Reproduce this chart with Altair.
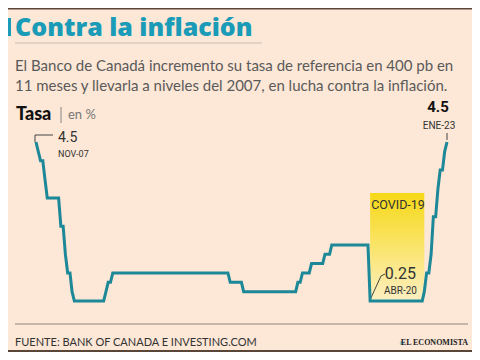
import altair as alt
import pandas as pd

# ---------------- data ----------------
start_month = "2007-11-01"
end_month = "2023-01-01"
rates_2007 = [4.50, 4.25]  # Nov, Dec
rates_2008 = [4.00, 4.00, 3.50, 3.00, 3.00, 3.00, 3.00, 3.00, 3.00, 2.25, 2.25, 1.50]
rates_2009 = [1.00, 1.00, 0.50, 0.25, 0.25, 0.25, 0.25, 0.25, 0.25, 0.25, 0.25, 0.25]
rates_2010 = [0.25, 0.25, 0.25, 0.25, 0.25, 0.50, 0.75, 0.75, 1.00, 1.00, 1.00, 1.00]
rates_2011 = [1.00, 1.00, 1.00, 1.00, 1.00, 1.00, 1.00, 1.00, 1.00, 1.00, 1.00, 1.00]
rates_2012 = [1.00, 1.00, 1.00, 1.00, 1.00, 1.00, 1.00, 1.00, 1.00, 1.00, 1.00, 1.00]
rates_2013 = [1.00, 1.00, 1.00, 1.00, 1.00, 1.00, 1.00, 1.00, 1.00, 1.00, 1.00, 1.00]
rates_2014 = [1.00, 1.00, 1.00, 1.00, 1.00, 1.00, 1.00, 1.00, 1.00, 1.00, 1.00, 1.00]
rates_2015 = [0.75, 0.75, 0.75, 0.75, 0.75, 0.75, 0.50, 0.50, 0.50, 0.50, 0.50, 0.50]
rates_2016 = [0.50, 0.50, 0.50, 0.50, 0.50, 0.50, 0.50, 0.50, 0.50, 0.50, 0.50, 0.50]
rates_2017 = [0.50, 0.50, 0.50, 0.50, 0.50, 0.50, 0.75, 0.75, 1.00, 1.00, 1.00, 1.00]
rates_2018 = [1.25, 1.25, 1.25, 1.25, 1.25, 1.25, 1.50, 1.50, 1.50, 1.75, 1.75, 1.75]
rates_2019 = [1.75, 1.75, 1.75, 1.75, 1.75, 1.75, 1.75, 1.75, 1.75, 1.75, 1.75, 1.75]
rates_2020 = [1.75, 1.75, 0.25, 0.25, 0.25, 0.25, 0.25, 0.25, 0.25, 0.25, 0.25, 0.25]
rates_2021 = [0.25, 0.25, 0.25, 0.25, 0.25, 0.25, 0.25, 0.25, 0.25, 0.25, 0.25, 0.25]
rates_2022 = [0.25, 0.25, 0.50, 1.00, 1.00, 1.50, 2.50, 2.50, 3.25, 3.75, 3.75, 4.25]
rates_2023 = [4.50]  # Jan

covid_start = ["2020-03-01"]
covid_end = ["2022-03-01"]

ann_dates = ["2007-11-01", "2020-04-01", "2023-01-01"]
ann_values = [4.5, 0.25, 4.5]
ann_labels = ["4.5", "0.25", "4.5"]
ann_sub = ["NOV-07", "ABR-20", "ENE-23"]

title_text = "Contra la inflación"
subtitle_lines = [
    "El Banco de Canadá incremento su tasa de referencia en 400 pb en",
    "11 meses y llevarla a niveles del 2007, en lucha contra la inflación.",
]
source_text = "FUENTE: BANK OF CANADA E INVESTING.COM"
brand_text = "EL ECONOMISTA"

# ---------------- build tables ----------------
rates = (rates_2007 + rates_2008 + rates_2009 + rates_2010 + rates_2011 + rates_2012
         + rates_2013 + rates_2014 + rates_2015 + rates_2016 + rates_2017 + rates_2018
         + rates_2019 + rates_2020 + rates_2021 + rates_2022 + rates_2023)
months = pd.date_range(start_month, end_month, freq="MS").strftime("%Y-%m-%d").tolist()
df = pd.DataFrame({"fecha": months, "tasa": rates})
covid = pd.DataFrame({"fecha": covid_start, "fin": covid_end})
ann = pd.DataFrame({"fecha": ann_dates, "tasa": ann_values,
                    "lab": ann_labels, "sub": ann_sub})

W, H = 464, 344
BG = "#fde7d6"
TEAL = "#1a9bb7"
LINE = "#1d8898"
NARROW = "Roboto, Liberation Sans, sans-serif"
SANS = "Lato, Open Sans, sans-serif"

xs = alt.Scale(range=[28, 439], nice=False)
ys = alt.Scale(domain=[0.25, 4.5], range=[293, 134], zero=False, nice=False)
X = alt.X("fecha:T", scale=xs, axis=None)
Y = alt.Y("tasa:Q", scale=ys, axis=None)

one = pd.DataFrame({"k": [0]})

def txt(text, x, y, size, color="#333333", weight="normal", font=SANS, align="left",
        baseline="middle"):
    return alt.Chart(one).mark_text(
        text=text, align=align, baseline=baseline, fontSize=size,
        fontWeight=weight, font=font, color=color
    ).encode(x=alt.value(x), y=alt.value(y))

def rule(x, y, x2, y2, color, width=1):
    return alt.Chart(one).mark_rule(color=color, strokeWidth=width).encode(
        x=alt.value(x), y=alt.value(y), x2=alt.value(x2), y2=alt.value(y2))

# COVID box
box = alt.Chart(covid).mark_rect(
    color=alt.LinearGradient(
        gradient="linear", x1=0, y1=0, x2=0, y2=1,
        stops=[alt.GradientStop(color="#f6d817", offset=0),
               alt.GradientStop(color="#f9e25a", offset=0.4),
               alt.GradientStop(color="#fcefc4", offset=1)])
).encode(x=alt.X("fecha:T", scale=xs, axis=None), x2="fin:T",
         y=alt.value(185), y2=alt.value(294))

line = alt.Chart(df).mark_line(color=LINE, strokeWidth=3, strokeJoin="miter").encode(x=X, y=Y)

a0 = ann.iloc[[0]]
a1 = ann.iloc[[1]]
a2 = ann.iloc[[2]]
lab_nov = alt.Chart(a0).mark_text(align="left", baseline="middle", dx=22, dy=-4,
                                  fontSize=14, font=NARROW, color="#333333").encode(x=X, y=Y, text="lab:N")
sub_nov = alt.Chart(a0).mark_text(align="left", baseline="middle", dx=22, dy=12,
                                  fontSize=9, font=NARROW, color="#333333").encode(x=X, y=Y, text="sub:N")
lab_abr = alt.Chart(a1).mark_text(align="center", baseline="middle", dx=28, dy=-27,
                                  fontSize=16, font=NARROW, color="#333333").encode(x=X, y=Y, text="lab:N")
sub_abr = alt.Chart(a1).mark_text(align="center", baseline="middle", dx=28, dy=-10,
                                  fontSize=10, font=NARROW, color="#333333").encode(x=X, y=Y, text="sub:N")
lab_ene = alt.Chart(a2).mark_text(align="center", baseline="middle", dx=-9, dy=-35,
                                  fontSize=15, fontWeight="bold", font=NARROW, color="#111111").encode(x=X, y=Y, text="lab:N")
sub_ene = alt.Chart(a2).mark_text(align="center", baseline="middle", dx=-8, dy=-16,
                                  fontSize=10, font=NARROW, color="#333333").encode(x=X, y=Y, text="sub:N")

covid_lbl = txt("COVID-19", 390, 197, 12.5, color="#333333", font=NARROW, align="center")

layers = [
    rule(0, 0.5, W, 0.5, "#5a4638", 2),
    alt.Chart(one).mark_rect(color=TEAL).encode(x=alt.value(0), x2=alt.value(3), y=alt.value(10), y2=alt.value(28)),
    txt(title_text, 7, 28, 25, color=TEAL, weight=800, font="Open Sans, Lato, sans-serif",
        baseline="alphabetic"),
    rule(7, 35, 254, 35, "#cbbdb2", 1),
    txt(subtitle_lines[0], 7, 58, 15, color="#5a5a5a"),
    txt(subtitle_lines[1], 7, 78, 15, color="#5a5a5a"),
    txt("Tasa", 8, 107, 18, color="#111111", weight=900),
    rule(53, 99, 53, 115, "#888888", 1),
    txt("en %", 60, 107, 13, color="#777777"),
    box,
    covid_lbl,
    rule(27, 134, 27, 127, "#444444", 1),
    rule(27, 127, 45, 127, "#444444", 1),
    rule(362, 292, 373, 268, "#444444", 1),
    rule(373, 268, 377, 266, "#444444", 1),
    rule(439, 125, 439, 132, "#444444", 1),
    line,
    lab_nov, sub_nov, lab_abr, sub_abr, lab_ene, sub_ene,
    rule(7, 316, 460, 316, "#8c8580", 1),
    txt(source_text, 7, 335, 11, color="#333333"),
    alt.Chart(one).mark_point(filled=True, color="#7cc3d6", size=22).encode(x=alt.value(394), y=alt.value(335)),
    txt(brand_text, 460, 335, 8, color="#222222", weight="bold",
        font="Liberation Serif, DejaVu Serif, serif", align="right"),
    rule(0, 343, W, 343, "#5a4638", 2),
]

chart = alt.layer(*layers).properties(
    width=W, height=H, padding=0,
    autosize=alt.AutoSizeParams(type="none"),
    background=BG,
).configure_view(stroke=None)

chart.save("out.html", embed_options={"renderer": "svg", "actions": False})
